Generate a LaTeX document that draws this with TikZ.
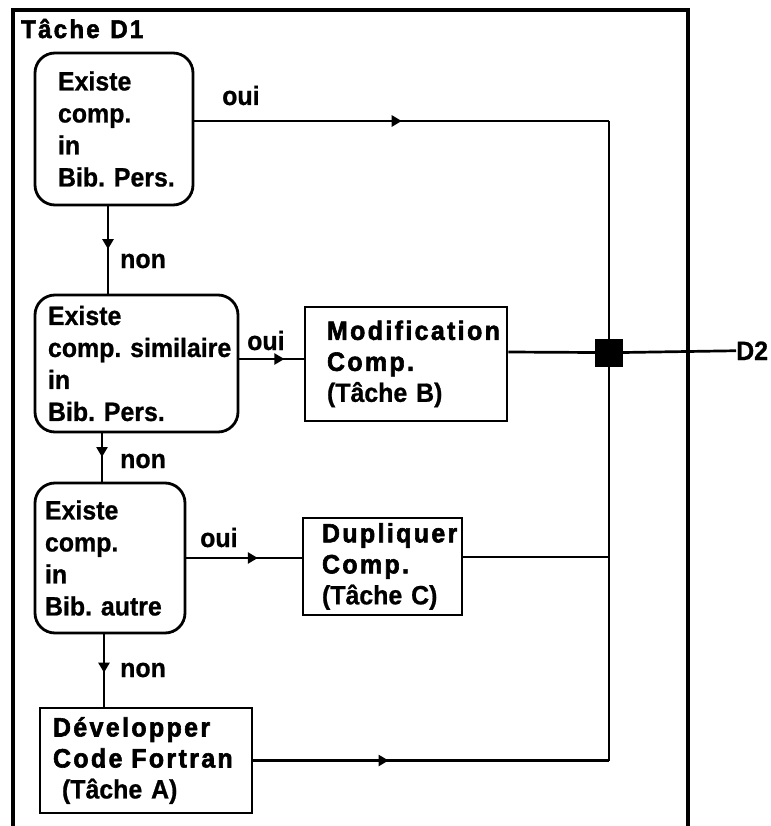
\documentclass[tikz,border=0pt]{standalone}
\usepackage{fontspec}
\setmainfont{Liberation Sans}
\newfontfamily\labfont[FakeBold=0.8,FakeStretch=0.94,WordSpace=0.8]{Liberation Sans Bold}
\newfontfamily\heavyfont[LetterSpace=9,FakeBold=2.2,FakeStretch=0.94,WordSpace=1.2]{Liberation Sans Bold}
\usetikzlibrary{arrows.meta,decorations.markings}
\tikzset{
  midarrow/.style={postaction={decorate,decoration={markings,
     mark=at position #1 with {\arrow{Triangle[length=10pt,width=11pt]}}}}},
  conn/.style={line width=2.7pt},
  decbox/.style={draw,line width=2.8pt,rounded corners=20pt,align=left,
     inner ysep=0pt,font=\labfont\fontsize{26.5}{32}\selectfont},
  taskbox/.style={draw,line width=2.8pt,align=left,inner ysep=0pt,
     font=\labfont\fontsize{26.5}{31}\selectfont},
  lbl/.style={anchor=base west,inner sep=0pt,font=\labfont\fontsize{26.5}{30}\selectfont},
}
\begin{document}
\frenchspacing
\begin{tikzpicture}[x=1pt,y=-1pt]
\useasboundingbox (0,0) rectangle (770,826);
% frame
\draw[line width=3.5pt] (13,826) -- (13,10) -- (688,10) -- (688,826);
\node[lbl,font=\heavyfont\fontsize{25.5}{30}\selectfont] (title) at (21,38) {\mbox{Tâche D1}};
% decision boxes
\node[decbox,minimum width=158,minimum height=152,text width=112,inner xsep=23]
  (b1) at (114,129) {Existe\\comp.\\in\\\mbox{Bib. Pers.}};
\node[decbox,minimum width=203,minimum height=137,text width=177,inner xsep=13]
  (b2) at (136.5,363.5) {Existe\\\mbox{comp. similaire}\\in\\\mbox{Bib. Pers.}};
\node[decbox,minimum width=150,minimum height=150,text width=130,inner xsep=10]
  (b3) at (110,558) {Existe\\comp.\\in\\\mbox{Bib. autre}};
% task boxes
\node[taskbox,minimum width=202,minimum height=114,text width=158,inner xsep=22]
  (mod) at (406,364) {{\heavyfont Modification}\\{\heavyfont Comp.}\\\mbox{(Tâche B)}};
\node[taskbox,minimum width=159,minimum height=97,text width=121,inner xsep=19]
  (dup) at (382.5,566.5) {{\heavyfont Dupliquer}\\{\heavyfont Comp.}\\\mbox{(Tâche C)}};
\node[taskbox,minimum width=212,minimum height=105,text width=186,inner xsep=13]
  (dev) at (146,760.5) {{\heavyfont Développer}\\\mbox{\heavyfont Code Fortran}\\\hspace*{9pt}\mbox{(Tâche A)}};
% junction
\node[fill=black,draw=black,minimum size=27pt,inner sep=0pt] (J) at (609,352.5) {};
\node[lbl] (d2) at (736,360) {D2};
% labels
\node[lbl] (oui1) at (222,105) {oui};
\node[lbl] (oui2) at (247,350) {oui};
\node[lbl] (oui3) at (200,547) {oui};
\node[lbl] (non1) at (120,268) {non};
\node[lbl] (non2) at (120,468) {non};
\node[lbl] (non3) at (120,677) {non};
% connectors
\coordinate (c1) at ([yshift=8pt]b1.east -| J);
\draw[conn,midarrow=0.5] ([yshift=8pt]b1.east) -- (c1);
\draw[conn] (c1) -- (J.north);
\draw[conn,midarrow=0.49] ([xshift=-6pt]b1.south) -- ([xshift=-6pt]b1.south |- b2.north);
\draw[conn,midarrow=0.7] ([yshift=4.5pt]b2.east) -- ([yshift=4.5pt]b2.east -| mod.west);
\draw[conn,midarrow=0.49] ([xshift=-8pt]b3.north |- b2.south) -- ([xshift=-8pt]b3.north);
\draw[conn,midarrow=0.62] (b3.east) -- (b3.east -| dup.west);
\draw[conn,midarrow=0.53] ([xshift=-6pt]b3.south) -- ([xshift=-6pt]b3.south |- dev.north);
\draw[conn] ([yshift=12pt]mod.east) -- (J.west);
\coordinate (c4) at (dev.east -| J);
\draw[conn,midarrow=0.38] (dev.east) -- (c4);
\draw[conn] (c4) -- (J.south);
\draw[conn] ([yshift=9.5pt]dup.east) -- ([yshift=9.5pt]dup.east -| J);
\draw[conn] (J.east) -- (d2.west);
\end{tikzpicture}
\end{document}
